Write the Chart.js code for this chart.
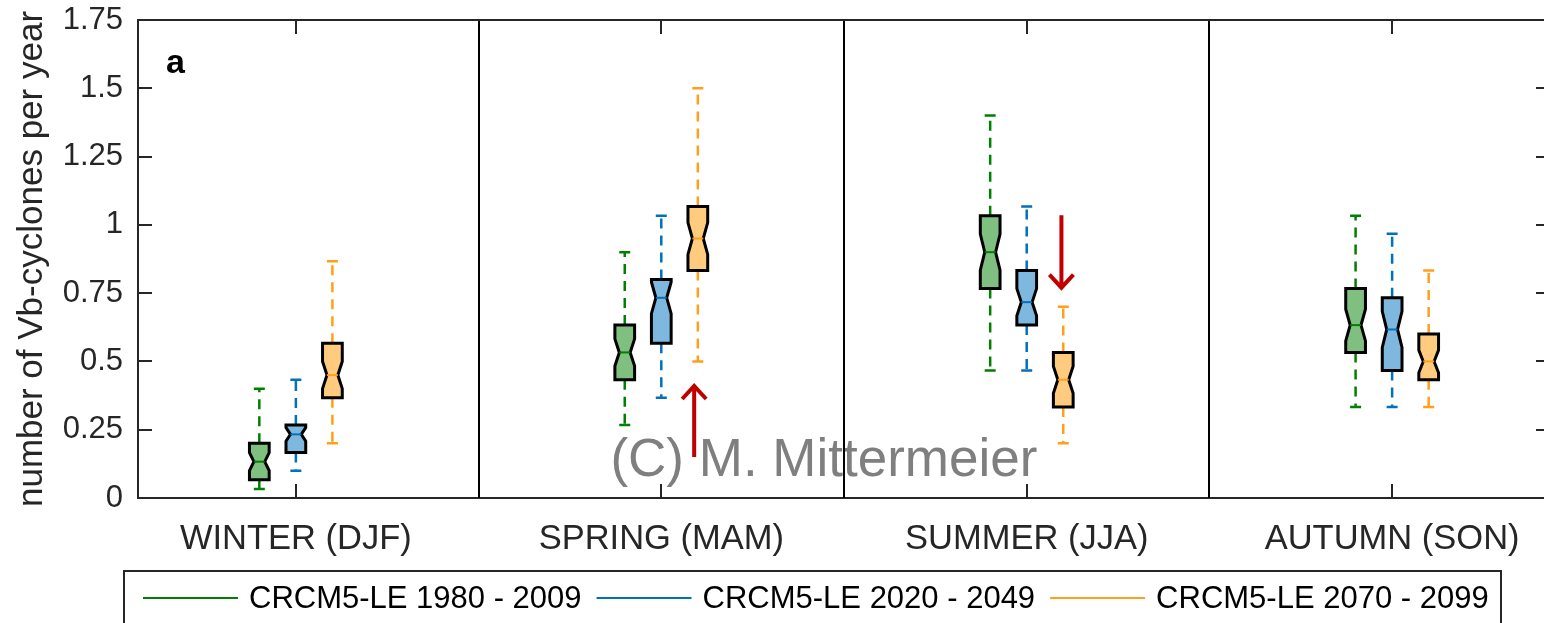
<!DOCTYPE html>
<html>
<head>
<meta charset="utf-8">
<script src="https://cdn.jsdelivr.net/npm/chart.js@4"></script>
<style>
  html, body { margin: 0; padding: 0; background: #fff; overflow: hidden; }
  #wrap { width: 1552px; height: 623px; }
</style>
</head>
<body>
<div id="wrap"><canvas id="vbChart" width="1552" height="623"></canvas></div>
<script>
const seasons = ['WINTER (DJF)', 'SPRING (MAM)', 'SUMMER (JJA)', 'AUTUMN (SON)'];
const periods = ['CRCM5-LE 1980 - 2009', 'CRCM5-LE 2020 - 2049', 'CRCM5-LE 2070 - 2099'];
const yTicks = [0, 0.25, 0.5, 0.75, 1, 1.25, 1.5, 1.75];
const yTickLabels = ['0', '0.25', '0.5', '0.75', '1', '1.25', '1.5', '1.75'];

// box statistics per period, one value per season (DJF, MAM, JJA, SON)
const lo1980 = [0.033, 0.267, 0.467, 0.333];
const q1_1980 = [0.067, 0.433, 0.767, 0.533];
const med1980 = [0.133, 0.533, 0.9, 0.633];
const q3_1980 = [0.2, 0.633, 1.033, 0.767];
const hi1980 = [0.4, 0.9, 1.4, 1.033];

const lo2020 = [0.1, 0.367, 0.467, 0.333];
const q1_2020 = [0.167, 0.567, 0.633, 0.467];
const med2020 = [0.233, 0.733, 0.717, 0.617];
const q3_2020 = [0.267, 0.8, 0.833, 0.733];
const hi2020 = [0.433, 1.033, 1.067, 0.967];

const lo2070 = [0.2, 0.5, 0.2, 0.333];
const q1_2070 = [0.367, 0.833, 0.333, 0.433];
const med2070 = [0.45, 0.95, 0.433, 0.5];
const q3_2070 = [0.567, 1.067, 0.533, 0.6];
const hi2070 = [0.867, 1.5, 0.7, 0.833];

// red arrows: x position, start value, tip value
const arrowX = [2.09, 3.095];
const arrowFrom = [0.15, 1.035];
const arrowTo = [0.41, 0.77];

const lineColors = ['#008000', '#0072bd', '#ff9f1a'];
const fillColors = ['rgba(0, 128, 0, .5)', 'rgba(0, 114, 189, .5)', 'rgba(255, 153, 0, .5)'];
const offsets = [-0.1, 0, 0.1];
const axisColor = '#262626';
const FONT = '"Liberation Sans", Arial, Helvetica, sans-serif';
const ENSEMBLE_N = 40;

const stats = [
  { lo: lo1980, q1: q1_1980, med: med1980, q3: q3_1980, hi: hi1980 },
  { lo: lo2020, q1: q1_2020, med: med2020, q3: q3_2020, hi: hi2020 },
  { lo: lo2070, q1: q1_2070, med: med2070, q3: q3_2070, hi: hi2070 },
];

const boxPlugin = {
  id: 'notchedBoxes',
  afterDraw(chart) {
    const { ctx, chartArea, scales } = chart;
    const xs = scales.x;
    const ys = scales.y;
    ctx.save();

    // watermark
    ctx.font = `53px ${FONT}`;
    ctx.fillStyle = '#7f7f7f';
    ctx.textAlign = 'center';
    ctx.textBaseline = 'alphabetic';
    ctx.fillText('(C) M. Mittermeier', xs.getPixelForValue(2.445), ys.getPixelForValue(0.08));

    // season separators
    ctx.strokeStyle = '#000';
    ctx.lineWidth = 2;
    [1.5, 2.5, 3.5].forEach((v) => {
      const x = Math.round(xs.getPixelForValue(v));
      ctx.beginPath();
      ctx.moveTo(x, chartArea.top);
      ctx.lineTo(x, chartArea.bottom);
      ctx.stroke();
    });

    // top / right frame and inward tick marks
    ctx.strokeStyle = axisColor;
    ctx.beginPath();
    ctx.moveTo(chartArea.left, chartArea.top);
    ctx.lineTo(chartArea.right, chartArea.top);
    ctx.lineTo(chartArea.right, chartArea.bottom);
    ctx.stroke();
    yTicks.forEach((v) => {
      const y = Math.round(ys.getPixelForValue(v));
      if (v === 0 || v === 1.75) return;
      ctx.beginPath();
      ctx.moveTo(chartArea.left, y);
      ctx.lineTo(chartArea.left + 14, y);
      ctx.moveTo(chartArea.right, y);
      ctx.lineTo(chartArea.right - 14, y);
      ctx.stroke();
    });
    seasons.forEach((_, i) => {
      const x = Math.round(xs.getPixelForValue(i + 1));
      ctx.beginPath();
      ctx.moveTo(x, chartArea.bottom);
      ctx.lineTo(x, chartArea.bottom - 14);
      ctx.moveTo(x, chartArea.top);
      ctx.lineTo(x, chartArea.top + 14);
      ctx.stroke();
    });

    // boxes
    const hw = xs.getPixelForValue(1.027) - xs.getPixelForValue(1);
    const ww = hw * 0.55;
    const capHw = 5.5;
    stats.forEach((st, p) => {
      seasons.forEach((_, s) => {
        const cx = xs.getPixelForValue(s + 1 + offsets[p]);
        const iqr = st.q3[s] - st.q1[s];
        const notch = 1.57 * iqr / Math.sqrt(ENSEMBLE_N);
        const yHi = ys.getPixelForValue(st.hi[s]);
        const yLo = ys.getPixelForValue(st.lo[s]);
        const yQ3 = ys.getPixelForValue(st.q3[s]);
        const yQ1 = ys.getPixelForValue(st.q1[s]);
        const yMed = ys.getPixelForValue(st.med[s]);
        const yNHi = ys.getPixelForValue(st.med[s] + notch);
        const yNLo = ys.getPixelForValue(st.med[s] - notch);

        // whiskers
        ctx.strokeStyle = lineColors[p];
        ctx.lineWidth = 2.5;
        ctx.setLineDash([10, 7]);
        ctx.beginPath();
        ctx.moveTo(cx, yQ3);
        ctx.lineTo(cx, yHi);
        ctx.moveTo(cx, yQ1);
        ctx.lineTo(cx, yLo);
        ctx.stroke();
        ctx.setLineDash([]);
        ctx.beginPath();
        ctx.moveTo(cx - capHw, yHi);
        ctx.lineTo(cx + capHw, yHi);
        ctx.moveTo(cx - capHw, yLo);
        ctx.lineTo(cx + capHw, yLo);
        ctx.stroke();

        // notched box
        ctx.beginPath();
        ctx.moveTo(cx - hw, yQ3);
        ctx.lineTo(cx + hw, yQ3);
        ctx.lineTo(cx + hw, yNHi);
        ctx.lineTo(cx + ww, yMed);
        ctx.lineTo(cx + hw, yNLo);
        ctx.lineTo(cx + hw, yQ1);
        ctx.lineTo(cx - hw, yQ1);
        ctx.lineTo(cx - hw, yNLo);
        ctx.lineTo(cx - ww, yMed);
        ctx.lineTo(cx - hw, yNHi);
        ctx.closePath();
        ctx.fillStyle = '#fff';
        ctx.fill();
        ctx.fillStyle = fillColors[p];
        ctx.fill();
        ctx.strokeStyle = '#000';
        ctx.lineWidth = 3;
        ctx.lineJoin = 'miter';
        ctx.stroke();

        ctx.strokeStyle = lineColors[p];
        ctx.lineWidth = 2;
        ctx.beginPath();
        ctx.moveTo(cx - ww, yMed);
        ctx.lineTo(cx + ww, yMed);
        ctx.stroke();
      });
    });

    // red arrows
    ctx.strokeStyle = '#c00000';
    ctx.lineWidth = 4;
    arrowX.forEach((ax, i) => {
      const x = xs.getPixelForValue(ax);
      const y0 = ys.getPixelForValue(arrowFrom[i]);
      const y1 = ys.getPixelForValue(arrowTo[i]);
      const dir = y1 < y0 ? 1 : -1;
      ctx.beginPath();
      ctx.moveTo(x, y0);
      ctx.lineTo(x, y1);
      ctx.moveTo(x - 12, y1 + dir * 13);
      ctx.lineTo(x, y1);
      ctx.lineTo(x + 12, y1 + dir * 13);
      ctx.stroke();
    });

    // panel letter
    ctx.fillStyle = '#000';
    ctx.font = `bold 34px ${FONT}`;
    ctx.textAlign = 'left';
    ctx.fillText('a', chartArea.left + 28, chartArea.top + 53);

    // legend box
    ctx.strokeStyle = axisColor;
    ctx.lineWidth = 2;
    ctx.strokeRect(124, 571, 1377, 80);
    ctx.font = `31px ${FONT}`;
    ctx.textBaseline = 'middle';
    let lx = 143;
    const ly = 598;
    periods.forEach((label, p) => {
      ctx.strokeStyle = lineColors[p];
      ctx.lineWidth = 2;
      ctx.beginPath();
      ctx.moveTo(lx, ly);
      ctx.lineTo(lx + 95, ly);
      ctx.stroke();
      ctx.fillStyle = '#000';
      ctx.fillText(label, lx + 106, ly + 1);
      lx += 106 + ctx.measureText(label).width + 15;
    });

    ctx.restore();
  },
};

new Chart(document.getElementById('vbChart'), {
  type: 'scatter',
  data: {
    datasets: stats.map((st, p) => ({
      label: periods[p],
      data: st.med.map((m, s) => ({ x: s + 1 + offsets[p], y: m })),
      pointRadius: 0,
      borderColor: lineColors[p],
      backgroundColor: fillColors[p],
    })),
  },
  options: {
    responsive: false,
    animation: false,
    devicePixelRatio: 1,
    layout: { padding: { left: 0, right: 2, top: 20, bottom: 0 } },
    plugins: {
      legend: { display: false },
      tooltip: { enabled: false },
    },
    scales: {
      x: {
        type: 'linear',
        min: 0.568,
        max: 4.432,
        afterBuildTicks: (scale) => { scale.ticks = seasons.map((_, i) => ({ value: i + 1 })); },
        afterFit: (scale) => {
          scale.height = 125;
          scale.paddingLeft = 0;
          scale.paddingRight = 0;
        },
        grid: { display: false, drawTicks: false },
        border: { display: true, color: axisColor, width: 2 },
        ticks: {
          autoSkip: false,
          maxRotation: 0,
          padding: 21,
          color: axisColor,
          font: { family: FONT, size: 34.5 },
          callback: (value) => seasons[Math.round(value) - 1],
        },
      },
      y: {
        min: 0,
        max: 1.75,
        afterBuildTicks: (scale) => { scale.ticks = yTicks.map((v) => ({ value: v })); },
        afterFit: (scale) => {
          scale.width = 138;
          scale.paddingTop = 0;
          scale.paddingBottom = 0;
        },
        grid: { display: false, drawTicks: false },
        border: { display: true, color: axisColor, width: 2 },
        ticks: {
          padding: 15,
          color: axisColor,
          font: { family: FONT, size: 31 },
          callback: (value) => yTickLabels[yTicks.indexOf(value)],
        },
        title: {
          display: true,
          text: 'number of Vb-cyclones per year',
          color: axisColor,
          font: { family: FONT, size: 35 },
          padding: { top: 11, bottom: 0 },
        },
      },
    },
  },
  plugins: [boxPlugin],
});
</script>
</body>
</html>
